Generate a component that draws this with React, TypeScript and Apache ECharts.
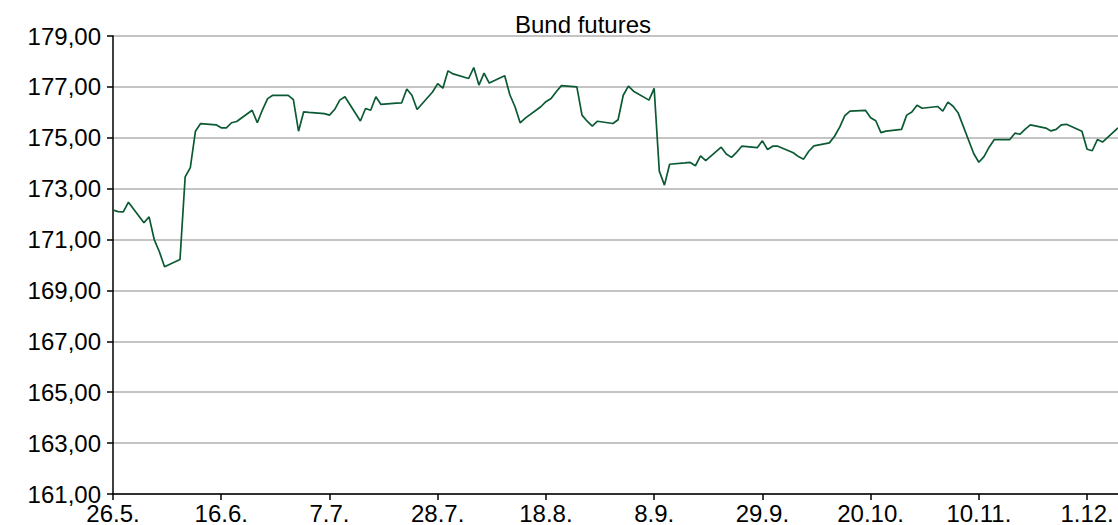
import React, { useEffect, useRef } from "react";
import * as echarts from "echarts";

const TITLE = "Bund futures";
const START_DATE = "2020-05-26";
const Y_MIN = 161;
const Y_MAX = 179;
const Y_STEP = 2;
const X_TICK_DAYS = 21;

// Daily closes, one per weekday starting at START_DATE
const VALUES = [
  172.16, 172.1, 172.09, 172.47, 171.66,
  171.89, 171.0, 170.52, 169.93, 170.22,
  173.46, 173.83, 175.26, 175.56, 175.51,
  175.39, 175.39, 175.59, 175.64, 176.08,
  175.59, 176.1, 176.54, 176.67, 176.67,
  176.5, 175.26, 176.02, 176.0, 175.95,
  175.89, 176.11, 176.48, 176.61, 175.66,
  176.15, 176.08, 176.61, 176.31, 176.36,
  176.37, 176.92, 176.67, 176.11, 176.8,
  177.13, 176.95, 177.63, 177.51, 177.33,
  177.76, 177.07, 177.54, 177.15, 177.44,
  176.69, 176.22, 175.59, 175.77, 176.22,
  176.42, 176.54, 176.81, 177.05, 177.0,
  175.89, 175.65, 175.46, 175.65, 175.56,
  175.71, 176.67, 177.03, 176.83, 176.48,
  176.94, 173.69, 173.14, 173.96, 174.01,
  174.03, 173.9, 174.29, 174.1, 174.63,
  174.36, 174.23, 174.43, 174.67, 174.61,
  174.88, 174.54, 174.67, 174.67, 174.41,
  174.26, 174.16, 174.47, 174.68, 174.8,
  175.06, 175.42, 175.87, 176.05, 176.08,
  175.79, 175.67, 175.2, 175.26, 175.33,
  175.89, 176.01, 176.28, 176.16, 176.23,
  176.05, 176.4, 176.24, 175.97, 174.38,
  174.04, 174.26, 174.63, 174.93, 174.93,
  175.18, 175.14, 175.34, 175.51, 175.38,
  175.27, 175.33, 175.51, 175.53, 175.26,
  174.55, 174.49, 174.93, 174.83, 175.39,
];

const DAY_MS = 86400000;

function tradingDays(start: string, n: number): Date[] {
  const out: Date[] = [];
  const d = new Date(start + "T00:00:00Z");
  while (out.length < n) {
    const wd = d.getUTCDay();
    if (wd !== 0 && wd !== 6) out.push(new Date(d.getTime()));
    d.setUTCDate(d.getUTCDate() + 1);
  }
  return out;
}

export default function App() {
  const ref = useRef<HTMLDivElement>(null);

  useEffect(() => {
    if (!ref.current) return;
    const chart = echarts.init(ref.current, null, { renderer: "svg" });
    const startMs = new Date(START_DATE + "T00:00:00Z").getTime();
    const dates = tradingDays(START_DATE, VALUES.length);
    const offsets = dates.map((d) => Math.round((d.getTime() - startMs) / DAY_MS));
    const xMax = offsets[offsets.length - 1];
    const tickVals: number[] = [];
    for (let t = 0; t <= xMax; t += X_TICK_DAYS) tickVals.push(t);
    const fmtDate = (off: number) => {
      const d = new Date(startMs + off * DAY_MS);
      return d.getUTCDate() + "." + (d.getUTCMonth() + 1) + ".";
    };
    const font = "Liberation Sans";
    chart.setOption({
      animation: false,
      graphic: [
        {
          type: "text",
          x: 583,
          y: 24,
          style: {
            text: TITLE,
            fontFamily: font,
            fontSize: 24,
            fill: "#000",
            align: "center",
            verticalAlign: "middle",
          },
        },
      ],
      grid: { left: 113, right: 0, top: 36, bottom: 31, containLabel: false },
      xAxis: {
        type: "value",
        min: 0,
        max: xMax,
        splitLine: { show: false },
        axisLine: { show: true, lineStyle: { color: "#000", width: 1.5 } },
        axisTick: {
          show: true,
          customValues: tickVals,
          length: 6,
          lineStyle: { color: "#000", width: 1.5 },
        },
        axisLabel: {
          customValues: tickVals,
          formatter: (v: number) => fmtDate(v),
          fontFamily: font,
          fontSize: 24,
          lineHeight: 20,
          color: "#000",
          margin: 9,
        },
      },
      yAxis: {
        type: "value",
        min: Y_MIN,
        max: Y_MAX,
        interval: Y_STEP,
        axisLine: { show: true, lineStyle: { color: "#000", width: 1.5 } },
        axisTick: { show: true, length: 6, lineStyle: { color: "#000", width: 1.5 } },
        splitLine: { show: true, lineStyle: { color: "#c4c4c4", width: 1.8 } },
        axisLabel: {
          formatter: (v: number) => v.toFixed(2).replace(".", ","),
          fontFamily: font,
          fontSize: 24,
          lineHeight: 14,
          color: "#000",
          margin: 12,
        },
      },
      series: [
        {
          type: "line",
          data: offsets.map((o, i) => [o, VALUES[i]]),
          showSymbol: false,
          symbol: "none",
          lineStyle: { color: "#0b5a33", width: 1.7 },
          z: 5,
        },
      ],
    });
    return () => chart.dispose();
  }, []);

  return (
    <div
      ref={ref}
      style={{ position: "absolute", left: 0, top: 0, width: 1118, height: 525 }}
    />
  );
}
